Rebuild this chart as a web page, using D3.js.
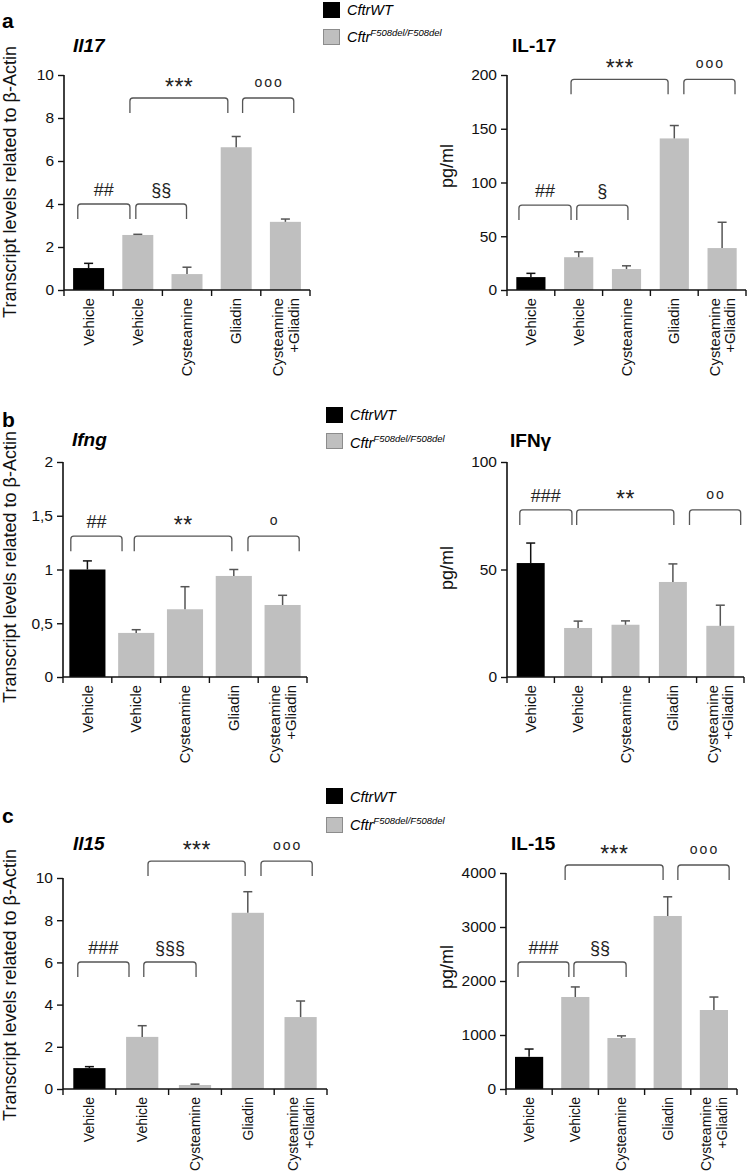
<!DOCTYPE html>
<html><head><meta charset="utf-8">
<script src="https://cdn.jsdelivr.net/npm/d3@7"></script>
<style>body{margin:0;background:#fff}svg{display:block;font-family:"Liberation Sans",Arial,sans-serif}</style>
</head><body>
<svg id="c" width="747" height="1174"></svg>
<script>
// ---- data ----
const categories = ["Vehicle", "Vehicle", "Cysteamine", "Gliadin", "Cysteamine|+Gliadin"];
const genotype = ["wt", "cf", "cf", "cf", "cf"];
const legendLabels = ["CftrWT", "Cftr", "F508del/F508del"];

const il17mRNA = [1.02, 2.56, 0.74, 6.64, 3.17];
const il17mRNAErr = [0.22, 0.03, 0.32, 0.5, 0.13];
const il17Protein = [12, 30.5, 19.5, 141, 39];
const il17ProteinErr = [3.5, 5, 3, 12, 24];
const ifngmRNA = [1.0, 0.41, 0.63, 0.94, 0.67];
const ifngmRNAErr = [0.08, 0.03, 0.21, 0.06, 0.09];
const ifngProtein = [53, 22.8, 24.3, 44.2, 23.8];
const ifngProteinErr = [9.3, 3.2, 1.8, 8.4, 9.6];
const il15mRNA = [0.99, 2.47, 0.19, 8.35, 3.41];
const il15mRNAErr = [0.07, 0.53, 0.04, 1.0, 0.76];
const il15Protein = [595, 1704, 944, 3204, 1463];
const il15ProteinErr = [145, 186, 40, 355, 240];

const ticksA1 = [0, 2, 4, 6, 8, 10];
const ticksA2 = [0, 50, 100, 150, 200];
const ticksB1 = [0, 0.5, 1, 1.5, 2];
const ticksB1Labels = ["0", "0,5", "1", "1,5", "2"];
const ticksB2 = [0, 50, 100];
const ticksC1 = [0, 2, 4, 6, 8, 10];
const ticksC2 = [0, 1000, 2000, 3000, 4000];

// significance brackets: [from (band units), to (band units), level (data units), label]
const sigA1 = [[0.28, 1.34, 4.0, "##"], [1.46, 2.49, 4.0, "§§"], [1.34, 3.33, 8.93, "***"], [3.63, 4.67, 8.93, "ooo"]];
const sigA2 = [[0.25, 1.34, 79, "##"], [1.46, 2.53, 79, "§"], [1.34, 3.37, 196, "***"], [3.70, 4.77, 196, "ooo"]];
const sigB1 = [[0.16, 1.21, 1.31, "##"], [1.46, 3.46, 1.31, "**"], [3.79, 4.84, 1.31, "o"]];
const sigB2 = [[0.27, 1.37, 77.7, "###"], [1.47, 3.52, 77.7, "**"], [3.85, 4.93, 77.7, "oo"]];
const sigC1 = [[0.28, 1.25, 6.02, "###"], [1.53, 2.52, 6.02, "§§§"], [1.61, 3.45, 10.8, "***"], [3.75, 4.72, 10.8, "ooo"]];
const sigC2 = [[0.26, 1.36, 2352, "###"], [1.47, 2.60, 2352, "§§"], [1.28, 3.40, 4148, "***"], [3.72, 4.83, 4148, "ooo"]];

// ---- layout ----
const FONT = '"Liberation Sans", Arial, sans-serif';
const svg = d3.select("#c");
const COL = {wt: "#000000", cf: "#bfbfbf"};

const panels = [
  {x0: 64, x1: 310, yb: 290, yt: 75, max: 10, vals: il17mRNA, err: il17mRNAErr, ticks: ticksA1, title: "Il17", italic: true, tx: 73, ty: 52, ylab: "Transcript levels related to β-Actin", ylx: 16, yly: 182, pad: 0.37, sig: sigA1, xfs: 14.8},
  {x0: 507, x1: 746, yb: 290, yt: 75, max: 200, vals: il17Protein, err: il17ProteinErr, ticks: ticksA2, title: "IL-17", italic: false, tx: 512, ty: 52, ylab: "pg/ml", ylx: 453, yly: 166, pad: 0.39, sig: sigA2, xfs: 14.8},
  {x0: 63, x1: 307, yb: 677, yt: 462, max: 2, vals: ifngmRNA, err: ifngmRNAErr, ticks: ticksB1, tickLabels: ticksB1Labels, title: "Ifng", italic: true, tx: 72, ty: 446, ylab: "Transcript levels related to β-Actin", ylx: 16, yly: 567, pad: 0.26, sig: sigB1, xfs: 14.8},
  {x0: 507, x1: 744, yb: 677, yt: 462, max: 100, vals: ifngProtein, err: ifngProteinErr, ticks: ticksB2, title: "IFNγ", italic: false, tx: 510, ty: 447, ylab: "pg/ml", ylx: 453, yly: 568, pad: 0.41, sig: sigB2, xfs: 14.8},
  {x0: 63, x1: 327, yb: 1089, yt: 878, max: 10, vals: il15mRNA, err: il15mRNAErr, ticks: ticksC1, title: "Il15", italic: true, tx: 73, ty: 850, ylab: "Transcript levels related to β-Actin", ylx: 16, yly: 985, pad: 0.39, sig: sigC1, xfs: 14},
  {x0: 506, x1: 737, yb: 1089, yt: 873, max: 4000, vals: il15Protein, err: il15ProteinErr, ticks: ticksC2, title: "IL-15", italic: false, tx: 511, ty: 850, ylab: "pg/ml", ylx: 453, yly: 967, pad: 0.39, sig: sigC2, xfs: 14}
];

const letters = [{t: "a", x: 2, y: 28}, {t: "b", x: 2, y: 427}, {t: "c", x: 2, y: 823}];
const legends = [{x: 323, y1: 2, y2: 29, b1: 15, b2: 42}, {x: 326, y1: 407, y2: 433, b1: 420, b2: 448}, {x: 326, y1: 788, y2: 817, b1: 802, b2: 830}];

letters.forEach(l => svg.append("text").attr("x", l.x).attr("y", l.y).attr("font-size", 21).attr("font-weight", "bold").attr("font-family", FONT).text(l.t));

legends.forEach(L => {
  svg.append("rect").attr("x", L.x).attr("y", L.y1).attr("width", 17).attr("height", 16).attr("fill", COL.wt);
  svg.append("rect").attr("x", L.x + 0.5).attr("y", L.y2 + 0.5).attr("width", 16).attr("height", 15).attr("fill", COL.cf).attr("stroke", "#8c8c8c").attr("stroke-width", 1);
  svg.append("text").attr("x", L.x + 24).attr("y", L.b1).attr("font-size", 14.5).attr("font-style", "italic").attr("font-family", FONT).text(legendLabels[0]);
  const t = svg.append("text").attr("x", L.x + 24).attr("y", L.b2).attr("font-size", 14.5).attr("font-style", "italic").attr("font-family", FONT);
  t.append("tspan").text(legendLabels[1]);
  t.append("tspan").attr("font-size", 9.5).attr("dy", -6).text(legendLabels[2]);
});

panels.forEach(p => {
  const g = svg.append("g");
  const x = d3.scaleBand().domain(d3.range(categories.length)).range([p.x0, p.x1]).paddingInner(p.pad).paddingOuter(p.pad / 2);
  const bw = (p.x1 - p.x0) / categories.length;
  const xc = v => p.x0 + v * bw; // continuous band-unit position
  const y = d3.scaleLinear().domain([0, p.max]).range([p.yb, p.yt]);

  // bars
  g.selectAll("rect.bar").data(p.vals).join("rect")
    .attr("x", (d, i) => x(i)).attr("width", x.bandwidth())
    .attr("y", d => y(d)).attr("height", d => y(0) - y(d))
    .attr("fill", (d, i) => COL[genotype[i]]);

  // error bars
  p.vals.forEach((d, i) => {
    const cx = x(i) + x.bandwidth() / 2;
    const c = genotype[i] === "wt" ? "#111" : "#555";
    g.append("line").attr("x1", cx).attr("x2", cx).attr("y1", y(d)).attr("y2", y(d + p.err[i])).attr("stroke", c).attr("stroke-width", 1.5);
    g.append("line").attr("x1", cx - 4.5).attr("x2", cx + 4.5).attr("y1", y(d + p.err[i])).attr("y2", y(d + p.err[i])).attr("stroke", c).attr("stroke-width", 1.5);
  });

  // y axis
  const ya = d3.axisLeft(y).tickValues(p.ticks).tickSize(6).tickPadding(4)
    .tickFormat((d, i) => p.tickLabels ? p.tickLabels[i] : d3.format("d")(d));
  const yg = g.append("g").attr("transform", `translate(${p.x0},0)`).call(ya);
  yg.select(".domain").attr("d", `M0,${p.yt}V${p.yb}`).attr("stroke", "#111").attr("stroke-width", 1.6);
  yg.selectAll(".tick line").attr("stroke", "#111").attr("stroke-width", 1.4);
  yg.selectAll(".tick text").attr("font-size", 15.5).attr("font-family", FONT).attr("fill", "#111");

  // x axis with ticks at band boundaries
  const bounds = d3.range(categories.length + 1).map(i => xc(i));
  g.append("line").attr("x1", p.x0).attr("x2", p.x1).attr("y1", p.yb).attr("y2", p.yb).attr("stroke", "#111").attr("stroke-width", 1.6);
  g.selectAll("line.xt").data(bounds).join("line").attr("class", "xt")
    .attr("x1", d => d).attr("x2", d => d).attr("y1", p.yb).attr("y2", p.yb + 6).attr("stroke", "#111").attr("stroke-width", 1.4);

  // category labels
  categories.forEach((c, i) => {
    const lines = c.split("|");
    const cx = x(i) + x.bandwidth() / 2;
    lines.forEach((ln, k) => {
      const off = lines.length === 1 ? 0 : (k === 0 ? -7.5 : 8);
      g.append("text").attr("transform", `translate(${cx + off},${p.yb + 8}) rotate(-90)`)
        .attr("text-anchor", "end").attr("dy", "0.35em").attr("font-size", p.xfs).attr("font-family", FONT).attr("fill", "#111").text(ln);
    });
  });

  // title
  g.append("text").attr("x", p.tx).attr("y", p.ty).attr("font-size", 19).attr("font-weight", "bold")
    .attr("font-style", p.italic ? "italic" : "normal").attr("font-family", FONT).text(p.title);

  // y label
  g.append("text").attr("transform", `translate(${p.ylx},${p.yly}) rotate(-90)`).attr("text-anchor", "middle")
    .attr("font-size", 18).attr("font-family", FONT).attr("fill", "#111").text(p.ylab);

  // significance brackets
  p.sig.forEach(s => {
    const a = xc(s[0]), b = xc(s[1]), t = y(s[2]), leg = 15, r = 3;
    g.append("path").attr("d", `M${a},${t + leg}V${t + r}Q${a},${t} ${a + r},${t}H${b - r}Q${b},${t} ${b},${t + r}V${t + leg}`)
      .attr("fill", "none").attr("stroke", "#555").attr("stroke-width", 1.3);
    const lab = s[3];
    const mid = (a + b) / 2;
    let fs = 18, base = t - 8, ls = 0;
    if (lab[0] === "*") { fs = 23; base = t - 3; ls = 0.5; }
    if (lab[0] === "o") { fs = 14; base = t - 11; ls = 2; }
    g.append("text").attr("x", mid + ls / 2).attr("y", base).attr("text-anchor", "middle")
      .attr("font-size", fs).attr("letter-spacing", ls).attr("font-family", FONT).attr("fill", "#222").text(lab);
  });
});
</script>
</body></html>
